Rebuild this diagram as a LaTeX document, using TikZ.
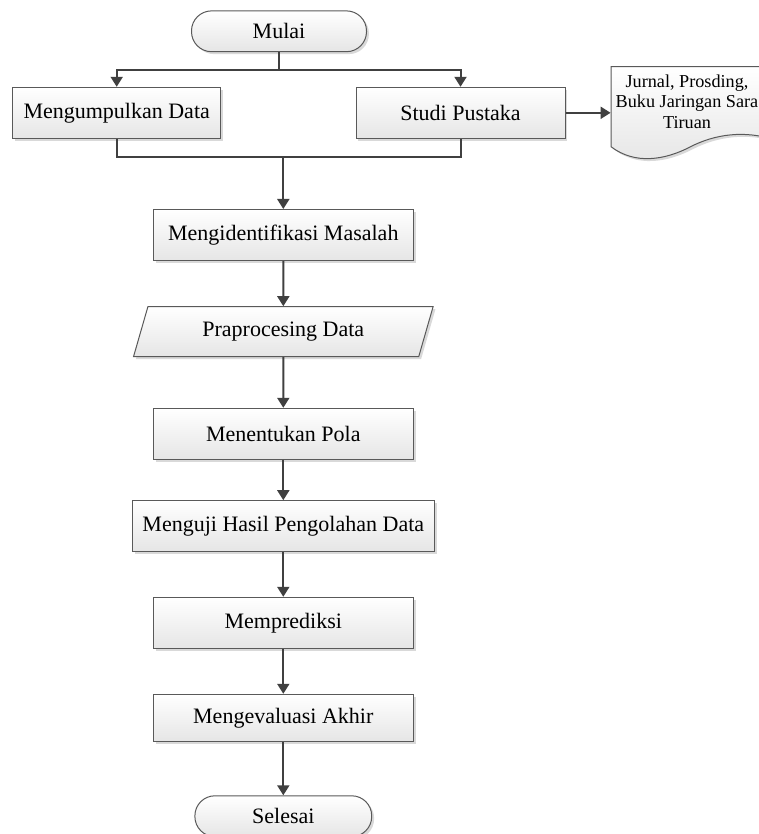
\documentclass[tikz,border=0pt]{standalone}
\usepackage{fontspec}
\setmainfont{Liberation Serif}
\usetikzlibrary{arrows.meta,shapes.geometric,shadows}

\begin{document}
\begin{tikzpicture}[x=0.5pt,y=-0.5pt,font=\fontsize{11}{13}\selectfont,
  kotak/.style={draw=black!65,line width=0.5pt,top color=white,bottom color=black!10,
    drop shadow={shadow xshift=1.2pt,shadow yshift=-1.2pt,opacity=0.3},
    minimum width=130pt,minimum height=25.5pt,inner sep=0pt},
  ujung/.style={kotak,rounded corners=10pt,minimum width=87.5pt,minimum height=20.4pt},
  miring/.style={kotak,trapezium,trapezium left angle=66,trapezium right angle=114,
    trapezium stretches=true,minimum width=150.8pt,minimum height=25pt},
  garis/.style={draw=black!75,line width=1pt},
  panah/.style={garis,-{Triangle[width=6pt,length=5pt]}}]

\useasboundingbox (0,0) rectangle (759,834);

%Mulai

\node[ujung] (mulai) at (279,31.3) {Mulai};
\coordinate (pecah) at (279,70.3);

%Pengumpulan data dan studi pustaka

\node[kotak,minimum width=104pt] (kumpul) at (116.7,112.8) {Mengumpulkan Data};
\node[kotak,minimum width=104.5pt] (studi) at (460.5,112.8) {Studi Pustaka};

\draw[kotak] (611,66.7) -- (775,66.7) -- (775,140)
  .. controls (745,130) and (715,134) .. (690,147)
  .. controls (665,160) and (635,165) .. (611,146.7) -- cycle;
\node[align=center,font=\fontsize{9.1}{10.4}\selectfont,minimum width=76pt,inner sep=0pt]
  (pustaka) at (687,101.7) {Jurnal, Prosding,\\Buku Jaringan Sara\\Tiruan};

\draw[garis] (mulai) -- (pecah);
\draw[panah] (pecah) -| (kumpul);
\draw[panah] (pecah) -| (studi);
\draw[panah] (studi.east) -- (studi.east -| pustaka.west);

%Tahapan penelitian

\coordinate (gabung) at (283.3,156.7);
\node[kotak] (ident) at (283.3,235) {Mengidentifikasi Masalah};
\node[miring] (prapro) at (283.3,331.7) {Praprocesing Data};
\node[kotak] (pola) at (283.3,433.8) {Menentukan Pola};
\node[kotak,minimum width=150.8pt] (uji) at (283.3,526.2) {Menguji Hasil Pengolahan Data};
\node[kotak] (prediksi) at (283.3,622.8) {Memprediksi};
\node[kotak,minimum height=23.7pt] (evaluasi) at (283.3,718) {Mengevaluasi Akhir};
\node[ujung,minimum width=88.4pt] (selesai) at (283.3,816.2) {Selesai};

\draw[garis] (kumpul) |- (gabung);
\draw[garis] (studi) |- (gabung);
\draw[panah] (gabung) -- (ident);
\draw[panah] (ident) -- (prapro);
\draw[panah] (prapro) -- (pola);
\draw[panah] (pola) -- (uji);
\draw[panah] (uji) -- (prediksi);
\draw[panah] (prediksi) -- (evaluasi);
\draw[panah] (evaluasi) -- (selesai);

\end{tikzpicture}
\end{document}
